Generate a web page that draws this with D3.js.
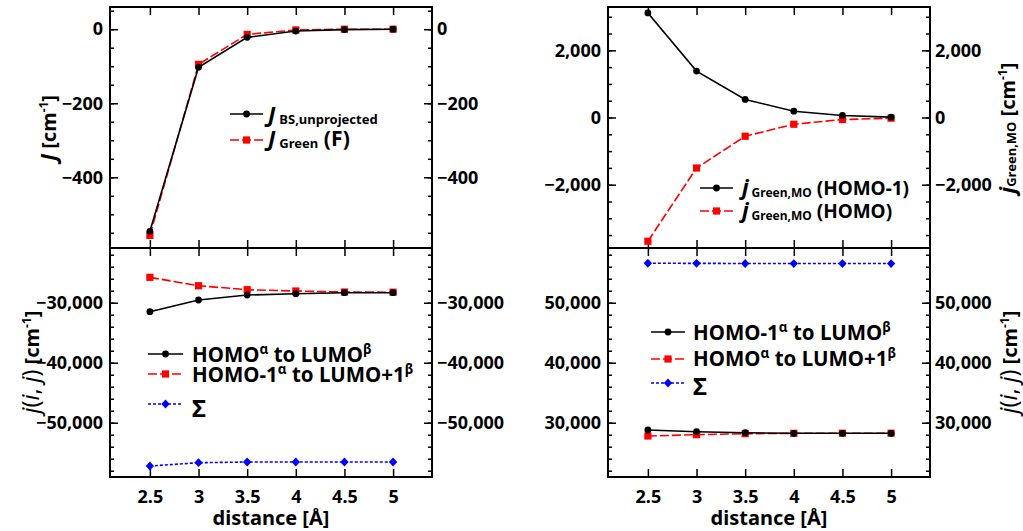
<!DOCTYPE html>
<html>
<head>
<meta charset="utf-8">
<script src="https://cdn.jsdelivr.net/npm/d3@7"></script>
<style>
  body { margin: 0; background: #fff; }
  svg { display: block; }
</style>
</head>
<body>
<div id="chart"></div>
<script>
// distance axis (Angstrom)
var distance = [2.5, 3, 3.5, 4, 4.5, 5];

// top left: J values [cm-1]
var jBSunprojected = [-546, -103, -22, -5, -1, 0];
var jGreenF = [-557, -95, -14, -2, 0, 0];

// top right: j Green,MO [cm-1]
var jGreenHomo1 = [3113, 1382, 537, 188, 60, 10];
var jGreenHomo = [-3684, -1504, -558, -200, -60, -20];

// bottom left: j(i,j) [cm-1]
var leftHomoToLumo = [-31500, -29550, -28720, -28500, -28330, -28330];
var leftHomo1ToLumo1 = [-25770, -27170, -27830, -28050, -28220, -28250];
var leftSum = [-57220, -56670, -56550, -56550, -56550, -56550];

// bottom right: j(i,j) [cm-1]
var rightHomo1ToLumo = [28780, 28500, 28330, 28230, 28230, 28230];
var rightHomoToLumo1 = [27780, 28000, 28170, 28230, 28250, 28250];
var rightSum = [56580, 56560, 56540, 56530, 56530, 56530];

// tick values
var xTicks = [2.5, 3, 3.5, 4, 4.5, 5];
var xTickLabels = ["2.5", "3", "3.5", "4", "4.5", "5"];
var tlMajor = [-400, -200, 0], tlMinor = d3.range(-550, 51, 50);
var trMajor = [-2000, 0, 2000], trMinor = d3.range(-3500, 3001, 500);
var blMajor = [-50000, -40000, -30000], blMinor = d3.range(-58000, -21999, 2000);
var brMajor = [30000, 40000, 50000], brMinor = d3.range(22000, 58001, 2000);

var font = "'Noto Sans', 'Open Sans', sans-serif";

var svg = d3.select("#chart").append("svg")
	.attr("width", 1023)
	.attr("height", 531)
	.style("font-family", font);

// panel geometry
var cols = { left: [110, 432], right: [608, 930] };
var rows = { top: [7, 248], bottom: [248, 477] };

var xLeft = d3.scaleLinear().domain([2.09, 5.4]).range(cols.left);
var xRight = d3.scaleLinear().domain([2.09, 5.4]).range(cols.right);

var yTL = d3.scaleLinear().domain([-591, 60]).range([rows.top[1], rows.top[0]]);
var yTR = d3.scaleLinear().domain([-3885, 3290]).range([rows.top[1], rows.top[0]]);
var yBL = d3.scaleLinear().domain([-59050, -20880]).range([rows.bottom[1], rows.bottom[0]]);
var yBR = d3.scaleLinear().domain([20950, 59120]).range([rows.bottom[1], rows.bottom[0]]);

var fmt = d3.format(",");

function styleAxis(g) {
	g.select(".domain").remove();
	g.selectAll("line").attr("stroke", "#000").attr("stroke-width", 1.5);
	g.attr("font-size", 18).attr("font-family", font).attr("font-weight", "bold");
	g.selectAll("text").attr("fill", "#000");
}

function drawPanel(x, y, major, minor, bottomLabels) {
	var x0 = x.range()[0], x1 = x.range()[1];
	var y0 = y.range()[1], y1 = y.range()[0];

	// left & right y axes, inward ticks
	svg.append("g").attr("transform", "translate(" + x0 + ",0)")
		.call(d3.axisLeft(y).tickValues(minor).tickSize(-4).tickFormat(""))
		.call(styleAxis);
	svg.append("g").attr("transform", "translate(" + x0 + ",0)")
		.call(d3.axisLeft(y).tickValues(major).tickSize(-8).tickPadding(7).tickFormat(fmt))
		.call(styleAxis);
	svg.append("g").attr("transform", "translate(" + x1 + ",0)")
		.call(d3.axisRight(y).tickValues(minor).tickSize(-4).tickFormat(""))
		.call(styleAxis);
	svg.append("g").attr("transform", "translate(" + x1 + ",0)")
		.call(d3.axisRight(y).tickValues(major).tickSize(-8).tickPadding(5).tickFormat(fmt))
		.call(styleAxis);

	// top & bottom x ticks
	svg.append("g").attr("transform", "translate(0," + y0 + ")")
		.call(d3.axisBottom(x).tickValues(xTicks).tickSize(8).tickFormat(""))
		.call(styleAxis);
	if (bottomLabels) {
		svg.append("g").attr("transform", "translate(0," + y1 + ")")
			.call(d3.axisBottom(x).tickValues(xTicks).tickSize(-8).tickPadding(13)
				.tickFormat(function(d, i) { return xTickLabels[i]; }))
			.call(styleAxis);
	} else {
		svg.append("g").attr("transform", "translate(0," + y1 + ")")
			.call(d3.axisTop(x).tickValues(xTicks).tickSize(8).tickFormat(""))
			.call(styleAxis);
	}

	// frame
	svg.append("rect")
		.attr("x", x0).attr("y", y0)
		.attr("width", x1 - x0).attr("height", y1 - y0)
		.attr("fill", "none").attr("stroke", "#000").attr("stroke-width", 2);
}

// marker shapes
var markers = {
	circle: function(g) { return g.append("circle").attr("r", 3.4); },
	square: function(g) { return g.append("rect").attr("x", -3.6).attr("y", -3.6).attr("width", 7.2).attr("height", 7.2); },
	diamond: function(g) { return g.append("path").attr("d", "M0,-4.4L4.2,0L0,4.4L-4.2,0Z"); }
};

var styles = {
	black: { color: "#000", dash: null, marker: "circle" },
	red: { color: "#f00", dash: "9,3", marker: "square" },
	blue: { color: "#00f", dash: "3,2", marker: "diamond" }
};

function drawSeries(x, y, values, st) {
	var line = d3.line()
		.x(function(d, i) { return x(distance[i]); })
		.y(function(d) { return y(d); });
	svg.append("path")
		.attr("d", line(values))
		.attr("fill", "none")
		.attr("stroke", st.color)
		.attr("stroke-width", 1.6)
		.attr("stroke-dasharray", st.dash);
	values.forEach(function(v, i) {
		var g = svg.append("g").attr("transform", "translate(" + x(distance[i]) + "," + y(v) + ")");
		markers[st.marker](g).attr("fill", st.color);
	});
}

// rich text: segments {t, size, italic, weight, shift}
function richText(parent, x, y, segs, attrs) {
	var t = parent.append("text").attr("x", x).attr("y", y).attr("fill", "#000");
	if (attrs) Object.keys(attrs).forEach(function(k) { t.attr(k, attrs[k]); });
	var cur = 0;
	segs.forEach(function(s) {
		var shift = s.shift || 0;
		var sp = t.append("tspan")
			.attr("font-size", s.size)
			.attr("font-weight", s.weight || "bold")
			.attr("font-style", s.italic ? "italic" : "normal")
			.attr("dy", shift - cur)
			.text(s.t);
		if (s.dx) sp.attr("dx", s.dx);
		cur = shift;
	});
	return t;
}

function legendRow(x1, x2, y, st, tx, ty, segs) {
	svg.append("line")
		.attr("x1", x1).attr("x2", x2).attr("y1", y).attr("y2", y)
		.attr("stroke", st.color).attr("stroke-width", 1.6)
		.attr("stroke-dasharray", st.dash);
	var g = svg.append("g").attr("transform", "translate(" + ((x1 + x2) / 2) + "," + y + ")");
	markers[st.marker](g).attr("fill", st.color);
	richText(svg, tx, ty, segs);
}

// panels
drawPanel(xLeft, yTL, tlMajor, tlMinor, false);
drawPanel(xRight, yTR, trMajor, trMinor, false);
drawPanel(xLeft, yBL, blMajor, blMinor, true);
drawPanel(xRight, yBR, brMajor, brMinor, true);

// data
drawSeries(xLeft, yTL, jGreenF, styles.red);
drawSeries(xLeft, yTL, jBSunprojected, styles.black);
drawSeries(xRight, yTR, jGreenHomo, styles.red);
drawSeries(xRight, yTR, jGreenHomo1, styles.black);
drawSeries(xLeft, yBL, leftHomo1ToLumo1, styles.red);
drawSeries(xLeft, yBL, leftHomoToLumo, styles.black);
drawSeries(xLeft, yBL, leftSum, styles.blue);
drawSeries(xRight, yBR, rightHomoToLumo1, styles.red);
drawSeries(xRight, yBR, rightHomo1ToLumo, styles.black);
drawSeries(xRight, yBR, rightSum, styles.blue);

// legends
legendRow(230, 263, 114, styles.black, 268, 122, [
	{ t: "J", size: 22, italic: true },
	{ t: "BS,unprojected", size: 13, shift: 2, dx: 4 }
]);
legendRow(230, 263, 140, styles.red, 268, 146, [
	{ t: "J", size: 22, italic: true },
	{ t: "Green", size: 13, shift: 2, dx: 4 },
	{ t: " (F)", size: 21, shift: 0 }
]);

legendRow(700, 733, 188, styles.black, 742, 195, [
	{ t: "j", size: 22, italic: true },
	{ t: "Green,MO", size: 12, shift: 2, dx: 3 },
	{ t: " (HOMO-1)", size: 19, shift: 0 }
]);
legendRow(700, 733, 211, styles.red, 742, 218, [
	{ t: "j", size: 22, italic: true },
	{ t: "Green,MO", size: 12, shift: 2, dx: 3 },
	{ t: " (HOMO)", size: 19, shift: 0 }
]);

var legSize = 20.5, supSize = 13.5;
legendRow(148, 183, 354, styles.black, 192, 362, [
	{ t: "HOMO", size: legSize }, { t: "α", size: supSize, shift: -8 },
	{ t: " to LUMO", size: legSize }, { t: "β", size: supSize, shift: -8 }
]);
legendRow(148, 183, 374, styles.red, 192, 382, [
	{ t: "HOMO-1", size: legSize }, { t: "α", size: supSize, shift: -8 },
	{ t: " to LUMO+1", size: legSize }, { t: "β", size: supSize, shift: -8 }
]);
legendRow(148, 183, 404, styles.blue, 192, 417, [
	{ t: "Σ", size: 24 }
]);

legendRow(651, 685, 332, styles.black, 693, 340, [
	{ t: "HOMO-1", size: legSize }, { t: "α", size: supSize, shift: -8 },
	{ t: " to LUMO", size: legSize }, { t: "β", size: supSize, shift: -8 }
]);
legendRow(651, 685, 359, styles.red, 693, 366, [
	{ t: "HOMO", size: legSize }, { t: "α", size: supSize, shift: -8 },
	{ t: " to LUMO+1", size: legSize }, { t: "β", size: supSize, shift: -8 }
]);
legendRow(651, 685, 383, styles.blue, 693, 395, [
	{ t: "Σ", size: 24 }
]);

// axis titles
var cmSegs = [
	{ t: " [cm", size: 20, shift: 0 },
	{ t: "-1", size: 12, shift: -8 },
	{ t: "]", size: 20, shift: 0 }
];
var jijSegs = [
	{ t: "j", size: 23, italic: true, weight: "normal" },
	{ t: "(", size: 23, weight: "normal" },
	{ t: "i", size: 23, italic: true, weight: "normal" },
	{ t: ", ", size: 23, weight: "normal" },
	{ t: "j", size: 23, italic: true, weight: "normal" },
	{ t: ")", size: 23, weight: "normal" }
].concat(cmSegs);

richText(svg, 0, 0, [{ t: "J", size: 21, italic: true }].concat(cmSegs),
	{ "text-anchor": "middle", transform: "translate(56,128) rotate(-90)" });
richText(svg, 0, 0, jijSegs,
	{ "text-anchor": "middle", transform: "translate(39,362) rotate(-90)" });
richText(svg, 0, 0, [
		{ t: "j", size: 22, italic: true },
		{ t: "Green,MO", size: 13, shift: 1 }
	].concat(cmSegs),
	{ "text-anchor": "middle", transform: "translate(1015,128) rotate(-90)" });
richText(svg, 0, 0, jijSegs,
	{ "text-anchor": "middle", transform: "translate(1017,362) rotate(-90)" });

// x axis titles
[cols.left, cols.right].forEach(function(c) {
	svg.append("text")
		.attr("x", (c[0] + c[1]) / 2)
		.attr("y", 525)
		.attr("text-anchor", "middle")
		.attr("font-size", 20)
		.attr("font-weight", "bold")
		.text("distance [Å]");
});
</script>
</body>
</html>
